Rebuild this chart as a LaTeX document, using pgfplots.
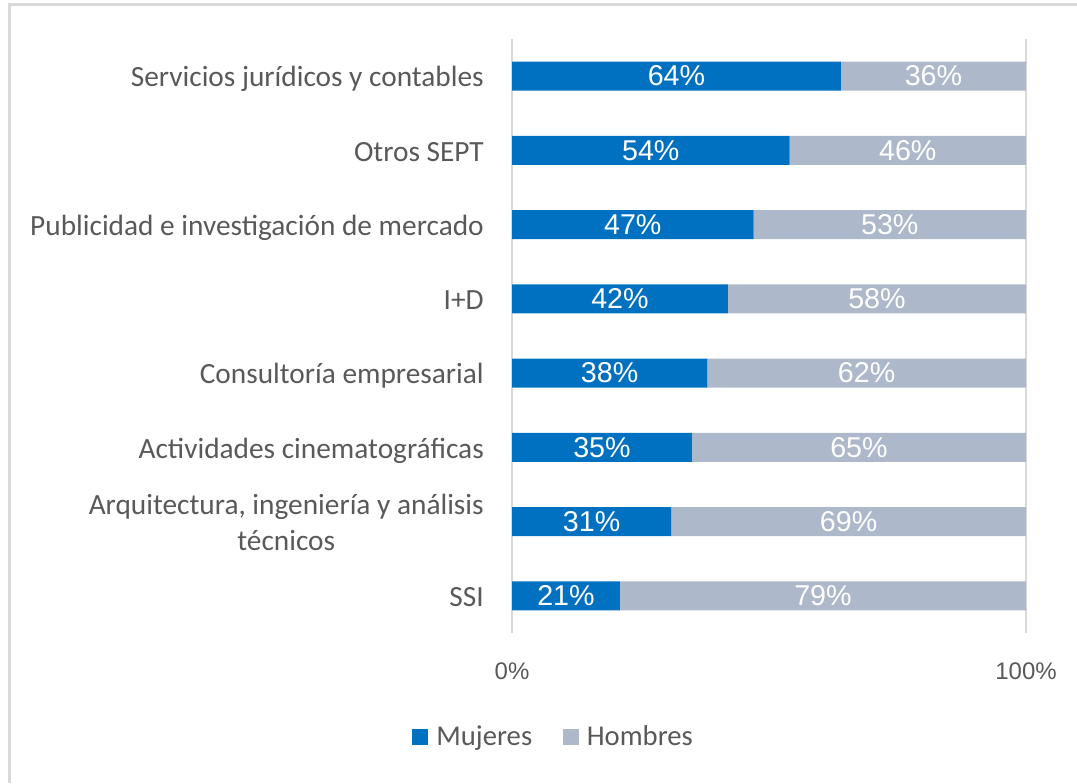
\documentclass[border=0pt]{standalone}
\usepackage{pgfplots}
\pgfplotsset{compat=1.18}
\usepackage{fontspec}
\setmainfont{Carlito}
\newfontfamily\arialf{Liberation Sans}
\definecolor{mujer}{HTML}{0070C0}
\definecolor{hombre}{HTML}{ADB9CA}
\definecolor{txt}{HTML}{595959}
\definecolor{frame}{HTML}{D9D9D9}

\begin{document}
\begin{tikzpicture}
\path[use as bounding box] (0,0) rectangle (807.75pt,587.25pt);
\draw[frame, line width=2.25pt] (6.75pt,0) -- (6.75pt,583.5pt) -- (812pt,583.5pt);

\begin{axis}[
 at={(384pt,112.5pt)}, anchor=south west,
 scale only axis, width=385.5pt, height=445.5pt,
 xbar stacked, bar width=21.75pt,
 xmin=0, xmax=100, ymin=-0.5, ymax=7.5,
 axis line style={draw=none},
 xtick={0,100}, xticklabels={0\%,100\%},
 xmajorgrids, grid style={frame, line width=1pt},
 major tick length=0pt, tick style={draw=none},
 xticklabel style={font=\arialf\fontsize{18}{18}\selectfont, text=txt, inner sep=0pt, anchor=base, yshift=-34.5pt},
 ytick={0,...,7},
 yticklabels={SSI,{\raisebox{-13.5pt}{\begin{tabular}[b]{@{}c@{}}Arquitectura, ingeniería y análisis\\técnicos\end{tabular}}},Actividades cinematográficas,Consultoría empresarial,I+D,Publicidad e investigación de mercado,Otros SEPT,Servicios jurídicos y contables},
 yticklabel style={font=\fontsize{22}{27}\selectfont, text=txt, inner sep=0pt, anchor=base east, xshift=-21pt, yshift=-8pt},
 legend style={at={(axis description cs:0.0817,-0.175)}, anchor=center, draw=none, fill=none,
  legend columns=2, font=\fontsize{21.5}{21.5}\selectfont, text=txt,
  /tikz/every even column/.append style={column sep=21pt}},
 legend image code/.code={\fill[#1] (0pt,-6pt) rectangle (12pt,6pt); \path (16pt,0);},
]
\addplot[fill=mujer, draw=none] coordinates {(21,0) (31,1) (35,2) (38,3) (42,4) (47,5) (54,6) (64,7)};
\addlegendentry{Mujeres}
\addplot[fill=hombre, draw=none] coordinates {(79,0) (69,1) (65,2) (62,3) (58,4) (53,5) (46,6) (36,7)};
\addlegendentry{Hombres}
\end{axis}

\begin{axis}[
 at={(384pt,112.5pt)}, anchor=south west,
 scale only axis, width=385.5pt, height=445.5pt,
 xmin=0, xmax=100, ymin=-0.5, ymax=7.5,
 hide axis,
 every node near coord/.append style={font=\arialf\fontsize{21.5}{21.5}\selectfont, text=white, anchor=center},
]
\addplot[draw=none, nodes near coords, point meta=explicit symbolic] coordinates {
 (10.5,0) [21\%] (15.5,1) [31\%] (17.5,2) [35\%] (19,3) [38\%]
 (21,4) [42\%] (23.5,5) [47\%] (27,6) [54\%] (32,7) [64\%]};
\addplot[draw=none, nodes near coords, point meta=explicit symbolic] coordinates {
 (60.5,0) [79\%] (65.5,1) [69\%] (67.5,2) [65\%] (69,3) [62\%]
 (71,4) [58\%] (73.5,5) [53\%] (77,6) [46\%] (82,7) [36\%]};
\end{axis}
\end{tikzpicture}
\end{document}
